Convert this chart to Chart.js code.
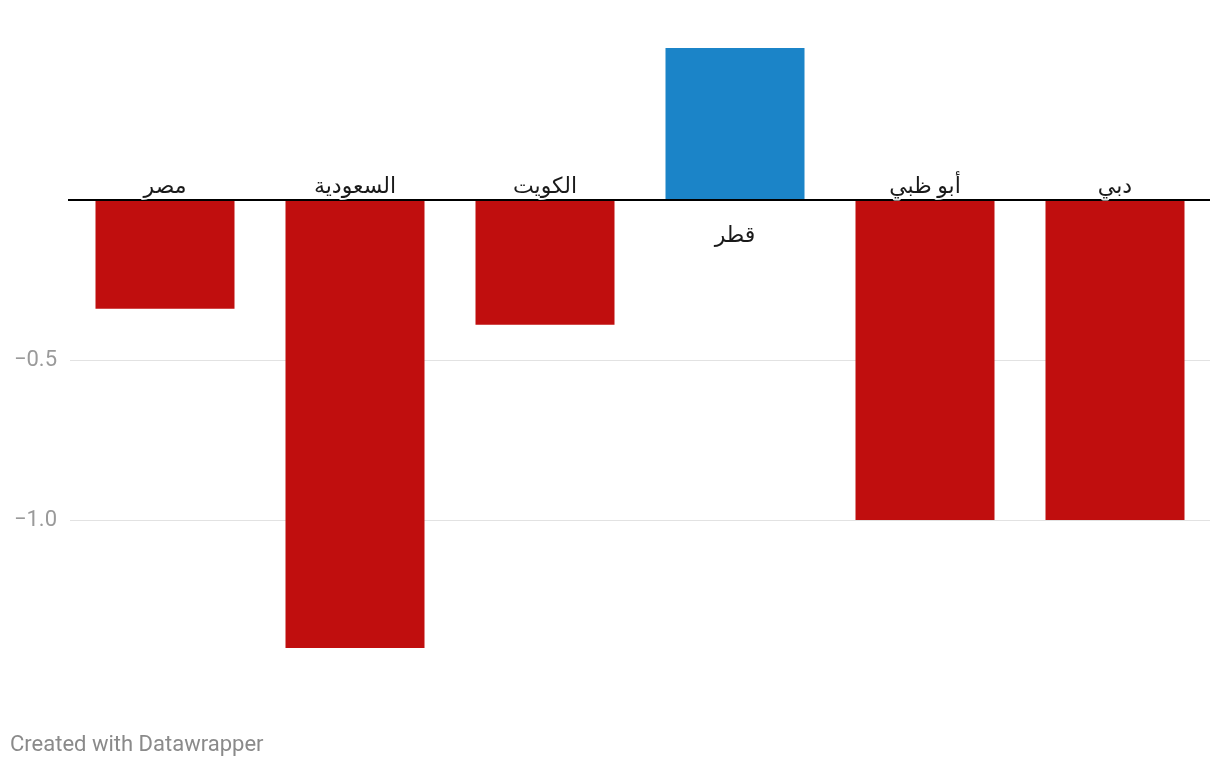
<!DOCTYPE html>
<html>
<head>
<meta charset="utf-8">
<script src="https://cdn.jsdelivr.net/npm/chart.js@4"></script>
<style>
  html, body { margin: 0; padding: 0; background: #fff; }
  #wrap { position: relative; width: 1220px; height: 768px; }
  #footer {
    position: absolute; left: 10px; top: 731px;
    font: 22px Roboto, sans-serif; color: #8a8a8a;
  }
</style>
</head>
<body>
<div id="wrap">
  <canvas id="chart" width="1220" height="768"></canvas>
  <div id="footer">Created with Datawrapper</div>
</div>
<script>
// Data
const countries = ['مصر', 'السعودية', 'الكويت', 'قطر', 'أبو ظبي', 'دبي'];
const values    = [-0.34, -1.4, -0.39, 0.475, -1.0, -1.0];
const shownTicks = [-0.5, -1.0];

const RED = '#c00e0e', BLUE = '#1b84c8';

// category labels sit on the zero line, opposite side of the bar
const barLabels = {
  id: 'barLabels',
  afterDatasetsDraw(chart) {
    const { ctx, chartArea, scales: { y } } = chart;
    const y0 = y.getPixelForValue(0);

    // zero baseline on top of the bars
    ctx.save();
    ctx.strokeStyle = '#000';
    ctx.lineWidth = 2;
    ctx.beginPath();
    ctx.moveTo(chartArea.left - 2, y0);
    ctx.lineTo(chartArea.right, y0);
    ctx.stroke();

    ctx.font = '22px Roboto, "DejaVu Sans", sans-serif';
    ctx.textAlign = 'center';
    ctx.lineJoin = 'round';
    const meta = chart.getDatasetMeta(0);
    meta.data.forEach((bar, i) => {
      const neg = values[i] < 0;
      const ty = neg ? y0 - 7 : y0 + 42;
      ctx.textBaseline = 'alphabetic';
      ctx.strokeStyle = 'rgba(255,255,255,0.9)';
      ctx.lineWidth = 4;
      ctx.strokeText(countries[i], bar.x, ty);
      ctx.fillStyle = '#1a1a1a';
      ctx.fillText(countries[i], bar.x, ty);
    });
    ctx.restore();
  }
};

new Chart(document.getElementById('chart'), {
  type: 'bar',
  data: {
    labels: countries,
    datasets: [{
      data: values,
      backgroundColor: values.map(v => v < 0 ? RED : BLUE),
      borderWidth: 0,
      categoryPercentage: 1,
      barPercentage: 139 / 190
    }]
  },
  options: {
    responsive: false,
    animation: false,
    layout: { padding: { top: 40, right: 10, bottom: 88, left: 0 } },
    plugins: { legend: { display: false }, tooltip: { enabled: false } },
    scales: {
      x: { display: false },
      y: {
        min: -1.5, max: 0.5,
        afterFit(scale) { scale.width = 70; },
        border: { display: false },
        grid: {
          drawTicks: false,
          lineWidth: 1,
          color: c => shownTicks.includes(c.tick.value) ? '#e2e2e2' : 'rgba(0,0,0,0)'
        },
        ticks: {
          stepSize: 0.5,
          padding: 13,
          color: '#9a9a9a',
          font: { family: 'Roboto', size: 22 },
          callback: v => shownTicks.includes(v) ? v.toFixed(1).replace('-', '\u2212') : ''
        }
      }
    }
  },
  plugins: [barLabels]
});
</script>
</body>
</html>
